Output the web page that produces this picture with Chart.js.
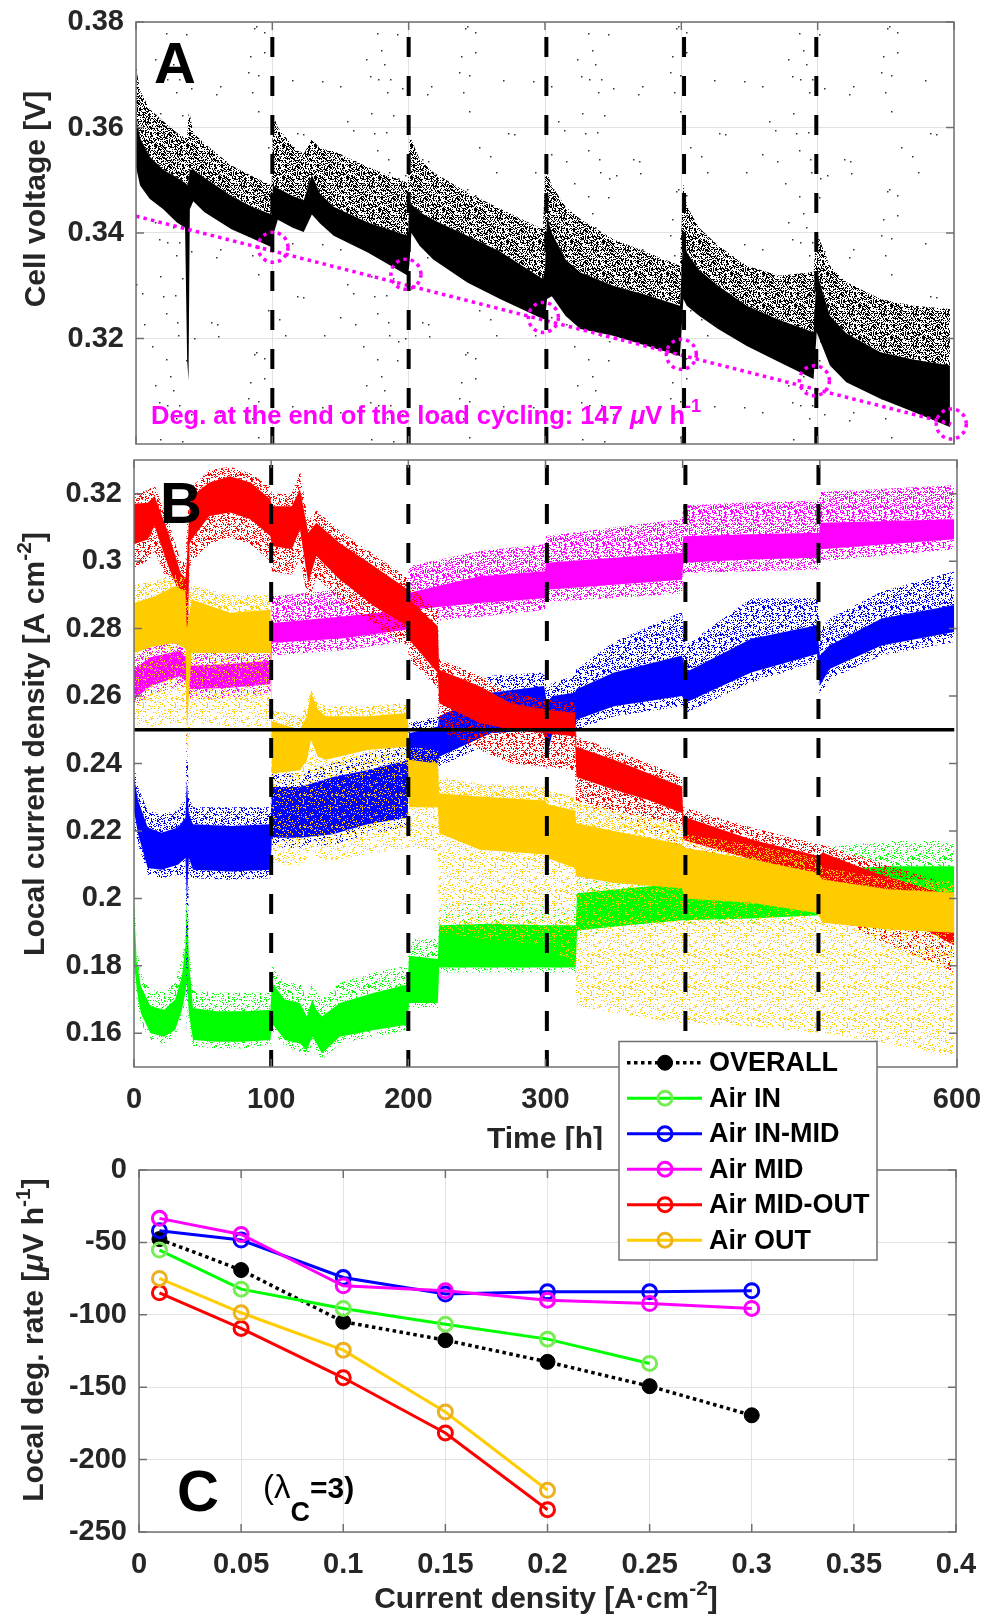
<!DOCTYPE html>
<html>
<head>
<meta charset="utf-8">
<title>Load cycling – local degradation</title>
<script src="https://cdn.jsdelivr.net/npm/chart.js@4.4.1/dist/chart.umd.min.js"></script>
<style>
  html, body { margin: 0; padding: 0; background: #fff; }
  #fig { position: relative; width: 986px; height: 1618px; overflow: hidden; background: #fff; }
  #fig canvas { position: absolute; left: 0; }
</style>
</head>
<body>
<div id="fig">
  <canvas id="panelA" width="986" height="450" style="top:0;width:986px;height:450px"></canvas>
  <canvas id="panelB" width="986" height="720" style="top:430px;width:986px;height:720px"></canvas>
  <canvas id="panelC" width="986" height="588" style="top:1030px;width:986px;height:588px"></canvas>
</div>
<script>
// ------------------------------------------------------------
// DATA
// ------------------------------------------------------------

// A – cell voltage envelope: [time h, lower edge, top of dense band, top of scatter]
const cellVoltage = [
  [0, 0.3525, 0.362, 0.3715], [3, 0.349, 0.358, 0.367], [10, 0.3465, 0.3545, 0.3635],
  [20, 0.3445, 0.352, 0.3612], [30, 0.342, 0.3505, 0.359], [36, 0.341, 0.3495, 0.358],
  [37.5, 0.316, 0.349, 0.3585], [38.5, 0.312, 0.35, 0.3625], [39.5, 0.3445, 0.352, 0.3625],
  [42, 0.346, 0.352, 0.359], [50, 0.344, 0.3505, 0.357], [70, 0.3407, 0.347, 0.3528],
  [85, 0.339, 0.345, 0.3508], [99.5, 0.3373, 0.3435, 0.349],
  [100.5, 0.3395, 0.349, 0.3625], [104, 0.3425, 0.3485, 0.36], [115, 0.341, 0.347, 0.3565],
  [123, 0.3402, 0.3462, 0.355], [129, 0.3435, 0.351, 0.3578], [135, 0.3418, 0.3475, 0.356],
  [145, 0.3395, 0.345, 0.3555], [170, 0.3363, 0.342, 0.3525], [199.5, 0.3319, 0.3395, 0.3495],
  [200.5, 0.334, 0.345, 0.3577], [202, 0.34, 0.3455, 0.3577], [208, 0.3376, 0.344, 0.354],
  [218, 0.335, 0.3425, 0.3515], [243, 0.3306, 0.3395, 0.3477], [267, 0.3275, 0.3365, 0.3446],
  [298.5, 0.3237, 0.3313, 0.3407], [300, 0.3237, 0.333, 0.3514],
  [301.5, 0.3275, 0.3432, 0.3514], [305, 0.328, 0.34, 0.349], [315, 0.3243, 0.335, 0.345],
  [326, 0.3218, 0.3325, 0.3426], [350, 0.3205, 0.33, 0.3388], [375, 0.3186, 0.3282, 0.3363],
  [399, 0.3167, 0.3262, 0.3338],
  [401.5, 0.3275, 0.3401, 0.3496], [404, 0.3262, 0.3363, 0.3451], [413, 0.3243, 0.333, 0.341],
  [427, 0.3218, 0.33, 0.3376], [448, 0.3186, 0.3262, 0.3338], [472, 0.3155, 0.3235, 0.3319],
  [497, 0.3123, 0.3212, 0.3326],
  [499.3, 0.3212, 0.3325, 0.3401], [509, 0.3149, 0.3243, 0.3338], [521, 0.3117, 0.321, 0.3307],
  [546, 0.3086, 0.3174, 0.3275], [570, 0.3061, 0.316, 0.3262], [597, 0.3032, 0.3149, 0.3256]
];
const degradationLine = [[0, 0.3432], [598, 0.3038]];
const cycleEnds = [[100.5, 0.3373], [198, 0.3322], [298.8, 0.324], [400, 0.317], [497.6, 0.312], [598, 0.3038]];
const loadCycles = [100, 200, 301, 402, 499];

// B – local current density: [time h, scatter low, band low, band high, scatter high]
const airIn = [
  [0, 0.178, 0.181, 0.199, 0.205], [2, 0.17, 0.173, 0.181, 0.186], [5, 0.163, 0.166, 0.174, 0.178],
  [12, 0.158, 0.16, 0.168, 0.173], [22, 0.157, 0.159, 0.167, 0.172], [30, 0.159, 0.161, 0.17, 0.175],
  [35, 0.165, 0.167, 0.177, 0.182], [37.5, 0.17, 0.172, 0.186, 0.19], [38.5, 0.168, 0.175, 0.2, 0.222],
  [40, 0.163, 0.166, 0.182, 0.186], [43, 0.156, 0.158, 0.1675, 0.173], [60, 0.1555, 0.1575, 0.1665, 0.172],
  [80, 0.1555, 0.1575, 0.1665, 0.172], [99.5, 0.1565, 0.158, 0.167, 0.172],
  [100.5, 0.161, 0.163, 0.175, 0.18], [110, 0.156, 0.158, 0.17, 0.175], [121, 0.1545, 0.157, 0.169, 0.175],
  [126, 0.153, 0.155, 0.165, 0.17], [130, 0.157, 0.159, 0.17, 0.175], [133, 0.155, 0.157, 0.167, 0.172],
  [137, 0.152, 0.154, 0.165, 0.17], [150, 0.157, 0.159, 0.169, 0.175], [175, 0.159, 0.161, 0.172, 0.178],
  [199.5, 0.161, 0.1625, 0.1745, 0.18],
  [200.5, 0.1675, 0.169, 0.183, 0.188], [221.5, 0.1675, 0.169, 0.182, 0.188],
  [222.5, 0.178, 0.1795, 0.192, 0.198], [260, 0.178, 0.1795, 0.1925, 0.199], [300, 0.178, 0.1795, 0.192, 0.198],
  [322, 0.178, 0.1795, 0.192, 0.198],
  [323, 0.189, 0.1905, 0.2015, 0.207], [360, 0.1905, 0.192, 0.203, 0.208], [400, 0.192, 0.1935, 0.2045, 0.21],
  [450, 0.1925, 0.194, 0.204, 0.211], [499, 0.1935, 0.195, 0.205, 0.213],
  [500, 0.1945, 0.196, 0.2085, 0.215], [550, 0.1955, 0.197, 0.2095, 0.217], [598, 0.1955, 0.197, 0.2095, 0.217]
];
const airInMid = [
  [0, 0.222, 0.226, 0.236, 0.24], [3, 0.216, 0.219, 0.229, 0.233], [10, 0.207, 0.209, 0.221, 0.226],
  [20, 0.206, 0.2085, 0.2195, 0.225], [32, 0.207, 0.21, 0.221, 0.226], [37.5, 0.206, 0.212, 0.224, 0.23],
  [38.5, 0.16, 0.2, 0.235, 0.25], [40, 0.207, 0.212, 0.225, 0.23], [43, 0.206, 0.2085, 0.222, 0.227],
  [70, 0.2055, 0.208, 0.2215, 0.227], [99.5, 0.206, 0.2085, 0.222, 0.227],
  [100.5, 0.215, 0.218, 0.233, 0.237], [121, 0.215, 0.218, 0.233, 0.237], [145, 0.216, 0.219, 0.236, 0.24],
  [170, 0.219, 0.222, 0.238, 0.243], [199.5, 0.221, 0.224, 0.241, 0.246],
  [200.5, 0.235, 0.238, 0.249, 0.252], [221.5, 0.237, 0.24, 0.251, 0.254],
  [222.5, 0.239, 0.242, 0.254, 0.258], [260, 0.246, 0.249, 0.261, 0.266], [299, 0.247, 0.25, 0.263, 0.267],
  [301, 0.238, 0.242, 0.258, 0.262], [305, 0.246, 0.249, 0.26, 0.264], [321.5, 0.247, 0.25, 0.261, 0.266],
  [322.5, 0.25, 0.253, 0.262, 0.268], [350, 0.254, 0.257, 0.267, 0.276], [399.5, 0.257, 0.26, 0.272, 0.285],
  [402, 0.255, 0.258, 0.267, 0.275], [450, 0.264, 0.267, 0.277, 0.289], [498, 0.27, 0.2725, 0.281, 0.289],
  [500, 0.26, 0.263, 0.272, 0.28], [507, 0.265, 0.268, 0.275, 0.283], [545, 0.272, 0.275, 0.283, 0.291],
  [598, 0.276, 0.279, 0.287, 0.297]
];
const airMid = [
  [0, 0.2565, 0.259, 0.268, 0.2715], [12, 0.2605, 0.263, 0.2715, 0.275], [34, 0.263, 0.266, 0.2735, 0.278],
  [42, 0.259, 0.262, 0.269, 0.273], [70, 0.2595, 0.2625, 0.2695, 0.273], [99.5, 0.2605, 0.2635, 0.2705, 0.2745],
  [100.5, 0.272, 0.2758, 0.2817, 0.2896], [150, 0.2735, 0.277, 0.2835, 0.2915], [199.5, 0.276, 0.2797, 0.2856, 0.2936],
  [200.5, 0.2815, 0.2856, 0.2906, 0.2985], [252, 0.2835, 0.2876, 0.2955, 0.303], [299.5, 0.2855, 0.289, 0.297, 0.305],
  [300.5, 0.288, 0.2915, 0.2995, 0.3075], [350, 0.289, 0.293, 0.301, 0.31], [399.5, 0.2905, 0.2945, 0.3025, 0.3125],
  [400.5, 0.2965, 0.2995, 0.3074, 0.3165], [450, 0.297, 0.3005, 0.308, 0.3175], [499.5, 0.2975, 0.301, 0.3084, 0.318],
  [500.5, 0.3, 0.3035, 0.3114, 0.3205], [598, 0.3035, 0.3065, 0.3124, 0.3225]
];
const airMidOut = [
  [0, 0.298, 0.305, 0.317, 0.32], [10, 0.3, 0.3064, 0.3173, 0.321], [15, 0.303, 0.3104, 0.3193, 0.3225],
  [25, 0.293, 0.2985, 0.3084, 0.312], [34, 0.285, 0.2896, 0.2965, 0.3], [37.5, 0.28, 0.287, 0.295, 0.3],
  [38.5, 0.24, 0.26, 0.3, 0.31], [40.5, 0.298, 0.305, 0.316, 0.32], [42, 0.3, 0.3064, 0.3193, 0.322],
  [55, 0.305, 0.3134, 0.3233, 0.327], [70, 0.307, 0.3144, 0.3252, 0.328], [85, 0.305, 0.3124, 0.3233, 0.326],
  [99.5, 0.3, 0.3074, 0.3183, 0.322],
  [100.5, 0.297, 0.3045, 0.3163, 0.32], [115, 0.296, 0.3035, 0.3163, 0.32], [121, 0.301, 0.3094, 0.3213, 0.327],
  [127, 0.288, 0.2936, 0.3084, 0.312], [133, 0.295, 0.3015, 0.3114, 0.315], [150, 0.289, 0.2946, 0.3054, 0.309],
  [175, 0.281, 0.2866, 0.2985, 0.302], [199.5, 0.275, 0.2807, 0.2916, 0.295],
  [200.5, 0.271, 0.2767, 0.2886, 0.293], [221.5, 0.262, 0.2668, 0.2807, 0.285],
  [222.5, 0.25, 0.2579, 0.2678, 0.271], [252, 0.244, 0.252, 0.2629, 0.266], [275, 0.24, 0.25, 0.2579, 0.261],
  [300, 0.239, 0.249, 0.256, 0.259], [321.5, 0.238, 0.248, 0.255, 0.258],
  [322.5, 0.227, 0.236, 0.245, 0.248], [350, 0.224, 0.2322, 0.2411, 0.244], [375, 0.22, 0.2292, 0.2371, 0.24],
  [399.5, 0.214, 0.2253, 0.2332, 0.236],
  [400.5, 0.21, 0.2173, 0.2243, 0.227], [450, 0.204, 0.2116, 0.2175, 0.221], [499, 0.198, 0.2066, 0.2126, 0.216],
  [502, 0.196, 0.2046, 0.2136, 0.216], [540, 0.188, 0.199, 0.2076, 0.211], [598, 0.178, 0.186, 0.2005, 0.204]
];
const airOut = [
  [0, 0.251, 0.2728, 0.2876, 0.293], [15, 0.251, 0.2748, 0.2896, 0.294], [30, 0.252, 0.2757, 0.2926, 0.296],
  [37.5, 0.252, 0.274, 0.291, 0.295], [38.5, 0.24, 0.25, 0.28, 0.29], [42, 0.252, 0.2728, 0.2886, 0.293],
  [70, 0.251, 0.2728, 0.2847, 0.29], [99.5, 0.251, 0.2728, 0.2856, 0.29],
  [100.5, 0.21, 0.237, 0.2525, 0.256], [121, 0.21, 0.238, 0.25, 0.254], [126, 0.212, 0.241, 0.254, 0.258],
  [129, 0.214, 0.247, 0.261, 0.262], [134, 0.212, 0.242, 0.256, 0.258], [140, 0.211, 0.2411, 0.254, 0.257],
  [170, 0.213, 0.244, 0.254, 0.257], [199.5, 0.215, 0.245, 0.255, 0.258],
  [200.5, 0.215, 0.227, 0.2411, 0.245], [221.5, 0.214, 0.227, 0.24, 0.244],
  [222.5, 0.19, 0.2193, 0.2311, 0.236], [252, 0.188, 0.2144, 0.2302, 0.234], [300, 0.186, 0.213, 0.229, 0.233],
  [301, 0.186, 0.212, 0.228, 0.232], [321.5, 0.18, 0.209, 0.226, 0.23],
  [322.5, 0.168, 0.2066, 0.2223, 0.229], [350, 0.166, 0.2046, 0.22, 0.226], [399.5, 0.163, 0.203, 0.216, 0.222],
  [401, 0.163, 0.2, 0.215, 0.219], [450, 0.162, 0.1987, 0.2116, 0.216], [498, 0.16, 0.1957, 0.2076, 0.212],
  [502, 0.16, 0.1928, 0.2056, 0.209], [550, 0.157, 0.1908, 0.2027, 0.206], [598, 0.153, 0.1898, 0.2017, 0.205]
];
const overallDensity = [[0, 0.25], [598, 0.25]];

// C – local degradation rate (µV/h) vs current density (A/cm2)
const currentDensity = [0.01, 0.05, 0.1, 0.15, 0.2, 0.25, 0.3];
const rateOverall   = [-47.7, -69.1, -104.8, -117.5, -132.5, -149.3, -169.4];
const rateAirIn     = [-55.3, -82.3, -95.6, -106.5, -116.8, -133.6];
const rateAirInMid  = [-41.9, -48.4, -74.2, -85.7, -84.1, -84.1, -83.4];
const rateAirMid    = [-33.4, -44.5, -80.0, -83.4, -89.9, -92.2, -95.6];
const rateAirMidOut = [-84.8, -109.4, -143.5, -181.6, -234.6];
const rateAirOut    = [-74.9, -98.6, -124.4, -167.1, -221.2];

// axis ticks
const voltTicks = [0.32, 0.34, 0.36, 0.38];
const timeTicks = [0, 100, 200, 300, 400, 500, 600];
const densityTicks = [0.16, 0.18, 0.2, 0.22, 0.24, 0.26, 0.28, 0.3, 0.32];
const rateTicks = [-250, -200, -150, -100, -50, 0];
const jTicks = [0, 0.05, 0.1, 0.15, 0.2, 0.25, 0.3, 0.35, 0.4];

// ------------------------------------------------------------
// STYLE HELPERS
// ------------------------------------------------------------
const FONT = '"Liberation Sans", Arial, Helvetica, sans-serif';
const INK = '#262626';
const FRAME = '#707070';
const GRID = '#e2e2e2';
const TICK = 8;
const GREEN = '#00ff00', BLUE = '#0000ff', MAGENTA = '#ff00ff', RED = '#ff0000', GOLD = '#ffcc00';

const bold = s => `bold ${s}px ${FONT}`;
const plain = s => `${s}px ${FONT}`;
const ital = s => `italic bold ${s}px ${FONT}`;

// integer hash of a tile cell, used as a fixed dither threshold
function cellHash(x, y, salt) {
  let h = Math.imul(x + 1, 374761393) ^ Math.imul(y + 1, 668265263) ^ Math.imul(salt + 7, 2246822519);
  h = Math.imul(h ^ (h >>> 13), 1274126177);
  h ^= h >>> 16;
  return (h >>> 0) / 4294967296;
}

// repeating dot tile for the sparse scatter part of a band
function speckle(color, density, w = 32, h = 32, size = 1) {
  const tile = document.createElement('canvas');
  tile.width = w;
  tile.height = h;
  const g = tile.getContext('2d');
  g.fillStyle = color;
  for (let y = 0; y < h; y++) {
    for (let x = 0; x < w; x++) {
      if (cellHash(x, y, w + h) < density) g.fillRect(x, y, size, size);
    }
  }
  return g.createPattern(tile, 'repeat');
}

// text made of runs (normal / superscript / subscript), optionally rotated
function rich(ctx, parts, x, y, opts = {}) {
  ctx.save();
  ctx.translate(x, y);
  if (opts.angle) ctx.rotate(opts.angle);
  let w = 0;
  parts.forEach(p => { ctx.font = p.font; w += ctx.measureText(p.text).width; });
  let cx = opts.align === 'center' ? -w / 2 : 0;
  ctx.fillStyle = opts.color || INK;
  ctx.textBaseline = 'alphabetic';
  ctx.textAlign = 'left';
  parts.forEach(p => {
    ctx.font = p.font;
    ctx.fillText(p.text, cx, p.dy || 0);
    cx += ctx.measureText(p.text).width;
  });
  ctx.restore();
}

function drawFrame(ctx, a, xs, ys) {
  ctx.save();
  ctx.strokeStyle = FRAME;
  ctx.lineWidth = 1.5;
  ctx.setLineDash([]);
  ctx.beginPath();
  xs.ticks.forEach(t => {
    const px = xs.getPixelForValue(t.value);
    ctx.moveTo(px, a.bottom); ctx.lineTo(px, a.bottom - TICK);
    ctx.moveTo(px, a.top); ctx.lineTo(px, a.top + TICK);
  });
  ys.ticks.forEach(t => {
    const py = ys.getPixelForValue(t.value);
    ctx.moveTo(a.left, py); ctx.lineTo(a.left + TICK, py);
    ctx.moveTo(a.right, py); ctx.lineTo(a.right - TICK, py);
  });
  ctx.stroke();
  ctx.strokeRect(a.left, a.top, a.right - a.left, a.bottom - a.top);
  ctx.restore();
}

function drawCycleLines(ctx, a, xs, offset) {
  ctx.save();
  ctx.strokeStyle = '#000';
  ctx.lineWidth = 4;
  ctx.setLineDash([20, 19]);
  ctx.lineDashOffset = offset;
  loadCycles.forEach(t => {
    const px = xs.getPixelForValue(t);
    ctx.beginPath(); ctx.moveTo(px, a.top); ctx.lineTo(px, a.bottom); ctx.stroke();
  });
  ctx.restore();
}

function xAxis(min, max, ticks, height, opts = {}) {
  return {
    type: 'linear', min, max, offset: false,
    afterBuildTicks: s => { s.ticks = ticks.map(v => ({ value: v })); },
    afterFit: s => { s.height = height; s.paddingLeft = 0; s.paddingRight = 0; },
    grid: { display: !!opts.grid, color: GRID, lineWidth: 1, drawTicks: false },
    border: { display: false },
    ticks: {
      display: opts.labels !== false, padding: 16, color: INK, maxRotation: 0,
      font: { family: FONT, size: 29, weight: 'bold' }, callback: v => String(v)
    }
  };
}

function yAxis(min, max, ticks, width, opts = {}) {
  return {
    type: 'linear', min, max,
    afterBuildTicks: s => { s.ticks = ticks.map(v => ({ value: v })); },
    afterFit: s => { s.width = width; s.paddingTop = 0; s.paddingBottom = 0; },
    grid: { display: !!opts.grid, color: GRID, lineWidth: 1, drawTicks: false },
    border: { display: false },
    ticks: {
      padding: 12, color: INK,
      font: { family: FONT, size: 29, weight: 'bold' }, callback: v => String(v)
    }
  };
}

const baseOptions = (padding) => ({
  responsive: false, animation: false, events: [],
  layout: { padding },
  plugins: { legend: { display: false }, tooltip: { enabled: false } },
  elements: { line: { tension: 0 }, point: { radius: 0, hoverRadius: 0 } }
});

const edge = { borderWidth: 0, borderColor: 'rgba(0,0,0,0)', pointRadius: 0 };
const pts = (rows, k) => rows.map(r => ({ x: r[0], y: r[k] }));

// ------------------------------------------------------------
// PANEL A – cell voltage
// ------------------------------------------------------------
const strayPoints = speckle('#333', 0.0012, 211, 163, 1.5);

const panelAExtras = {
  id: 'panelAExtras',
  beforeDatasetsDraw(chart) {
    // isolated outlier samples scattered over the whole record
    const { ctx, chartArea: a } = chart;
    ctx.save();
    ctx.fillStyle = strayPoints;
    ctx.fillRect(a.left, a.top, a.right - a.left, a.bottom - a.top);
    ctx.restore();
  },
  afterDatasetsDraw(chart) {
    const { ctx, chartArea: a, scales: { x, y } } = chart;
    drawCycleLines(ctx, a, x, 24);

    // dotted rings at the end of each load cycle
    ctx.save();
    ctx.strokeStyle = MAGENTA;
    ctx.lineWidth = 3.5;
    ctx.setLineDash([3.5, 4]);
    cycleEnds.forEach(([t, v]) => {
      ctx.beginPath();
      ctx.arc(x.getPixelForValue(t), y.getPixelForValue(v), 15, 0, Math.PI * 2);
      ctx.stroke();
    });
    ctx.restore();

    drawFrame(ctx, a, x, y);

    rich(ctx, [{ text: 'A', font: bold(58) }], 154, 83, { color: '#000' });
    rich(ctx, [{ text: 'Cell voltage [V]', font: bold(30) }], 45, 199, { angle: -Math.PI / 2, align: 'center' });
    rich(ctx, [
      { text: 'Deg. at the end of the load cycling: 147 ', font: bold(25.5) },
      { text: 'μ', font: ital(25.5) },
      { text: 'V h', font: bold(25.5) },
      { text: '-1', font: bold(18), dy: -12 }
    ], 151, 424, { color: MAGENTA });
  }
};

new Chart(document.getElementById('panelA'), {
  type: 'line',
  data: {
    datasets: [
      { ...edge, data: pts(cellVoltage, 1), fill: false, order: 5 },
      { ...edge, data: pts(cellVoltage, 2), fill: '-1', backgroundColor: '#000', order: 5 },
      { ...edge, data: pts(cellVoltage, 3), fill: '-1', backgroundColor: speckle('#000', 0.45), order: 5 },
      {
        data: degradationLine.map(([x, y]) => ({ x, y })), fill: false, order: 1,
        borderColor: MAGENTA, borderWidth: 3.5, borderDash: [3.5, 4.2], pointRadius: 0
      }
    ]
  },
  options: {
    ...baseOptions({ top: 22, right: 32, left: 0, bottom: 0 }),
    scales: {
      x: xAxis(0, 600, timeTicks, 6, { grid: true, labels: false }),
      y: yAxis(0.30, 0.38, voltTicks, 136, { grid: true })
    }
  },
  plugins: [panelAExtras]
});

// ------------------------------------------------------------
// PANEL B – local current density
// ------------------------------------------------------------
function bandSets(rows, color, order, loDensity, hiDensity) {
  return [
    { ...edge, data: pts(rows, 1), fill: false, order },
    { ...edge, data: pts(rows, 2), fill: '-1', backgroundColor: speckle(color, loDensity), order },
    { ...edge, data: pts(rows, 3), fill: '-1', backgroundColor: color, order },
    { ...edge, data: pts(rows, 4), fill: '-1', backgroundColor: speckle(color, hiDensity), order }
  ];
}

const panelBExtras = {
  id: 'panelBExtras',
  afterDatasetsDraw(chart) {
    const { ctx, chartArea: a, scales: { x, y } } = chart;
    drawCycleLines(ctx, a, x, 34);
    drawFrame(ctx, a, x, y);
    rich(ctx, [{ text: 'B', font: bold(58) }], 160, 93, { color: '#000' });
    rich(ctx, [
      { text: 'Local current density [A cm', font: bold(30) },
      { text: '-2', font: bold(21), dy: -13 },
      { text: ']', font: bold(30) }
    ], 44, 314, { angle: -Math.PI / 2, align: 'center' });
    rich(ctx, [{ text: 'Time [h]', font: bold(30) }], 545, 718, { align: 'center' });
  }
};

new Chart(document.getElementById('panelB'), {
  type: 'line',
  data: {
    datasets: [
      ...bandSets(airIn, GREEN, 50, 0.15, 0.18),
      ...bandSets(airInMid, BLUE, 40, 0.25, 0.3),
      ...bandSets(airMid, MAGENTA, 30, 0.3, 0.36),
      ...bandSets(airMidOut, RED, 20, 0.3, 0.3),
      ...bandSets(airOut, GOLD, 10, 0.14, 0.26),
      {
        data: overallDensity.map(([x, y]) => ({ x, y })), fill: false, order: 0,
        borderColor: '#000', borderWidth: 3.5, pointRadius: 0
      }
    ]
  },
  options: {
    ...baseOptions({ top: 30, right: 29, left: 0, bottom: 0 }),
    scales: {
      x: xAxis(0, 600, timeTicks, 83),
      y: yAxis(0.15, 0.33, densityTicks, 134)
    }
  },
  plugins: [panelBExtras]
});

// ------------------------------------------------------------
// PANEL C – local degradation rate
// ------------------------------------------------------------
const series = (label, values, line, marker, extra = {}) => ({
  label,
  data: values.map((v, i) => ({ x: currentDensity[i], y: v })),
  borderColor: line, borderWidth: 3, fill: false,
  pointRadius: 7, pointBorderWidth: 3, pointBorderColor: marker, pointBackgroundColor: 'rgba(0,0,0,0)',
  ...extra
});

const degSeries = [
  series('OVERALL', rateOverall, '#000', '#000', {
    borderDash: [3.5, 3.5], borderWidth: 3.5, pointRadius: 7.5, pointBorderWidth: 1,
    pointBackgroundColor: '#000', order: 6
  }),
  series('Air IN', rateAirIn, GREEN, '#77ec55', { order: 5 }),
  series('Air IN-MID', rateAirInMid, BLUE, BLUE, { order: 4 }),
  series('Air MID', rateAirMid, MAGENTA, MAGENTA, { order: 3 }),
  series('Air MID-OUT', rateAirMidOut, RED, RED, { order: 2 }),
  series('Air OUT', rateAirOut, GOLD, '#edb120', { order: 1 })
];

const panelCExtras = {
  id: 'panelCExtras',
  afterDatasetsDraw(chart) {
    const { ctx, chartArea: a, scales: { x, y } } = chart;
    drawFrame(ctx, a, x, y);

    rich(ctx, [{ text: 'C', font: bold(58) }], 177, 481, { color: '#000' });
    rich(ctx, [
      { text: '(λ', font: plain(33) },
      { text: 'C', font: bold(27), dy: 23 },
      { text: '=3)', font: bold(30) }
    ], 263, 468, { color: '#000' });
    rich(ctx, [
      { text: 'Local deg. rate [', font: bold(30) },
      { text: 'μ', font: ital(30) },
      { text: 'V h', font: bold(30) },
      { text: '-1', font: bold(21), dy: -13 },
      { text: ']', font: bold(30) }
    ], 43, 310, { angle: -Math.PI / 2, align: 'center' });
    rich(ctx, [
      { text: 'Current density [A·cm', font: bold(30) },
      { text: '-2', font: bold(21), dy: -13 },
      { text: ']', font: bold(30) }
    ], 546, 578, { align: 'center' });

    // legend box shared by B and C
    const box = { l: 619, t: 11.5, r: 877, b: 230 };
    ctx.save();
    ctx.fillStyle = '#fff';
    ctx.fillRect(box.l, box.t, box.r - box.l, box.b - box.t);
    ctx.strokeStyle = FRAME;
    ctx.lineWidth = 1.5;
    ctx.strokeRect(box.l, box.t, box.r - box.l, box.b - box.t);
    chart.data.datasets.forEach((ds, i) => {
      const ry = 32.7 + i * 35.5;
      ctx.strokeStyle = ds.borderColor;
      ctx.lineWidth = ds.borderWidth;
      ctx.setLineDash(ds.borderDash || []);
      ctx.beginPath(); ctx.moveTo(627, ry); ctx.lineTo(702, ry); ctx.stroke();
      ctx.setLineDash([]);
      ctx.beginPath(); ctx.arc(665, ry, ds.pointRadius, 0, Math.PI * 2);
      ctx.fillStyle = ds.pointBackgroundColor; ctx.fill();
      ctx.lineWidth = ds.pointBorderWidth; ctx.strokeStyle = ds.pointBorderColor; ctx.stroke();
      ctx.fillStyle = '#000';
      ctx.font = bold(27);
      ctx.textBaseline = 'middle';
      ctx.fillText(ds.label, 709, ry + 1);
    });
    ctx.restore();
  }
};

new Chart(document.getElementById('panelC'), {
  type: 'line',
  data: { datasets: degSeries },
  options: {
    ...baseOptions({ top: 140, right: 30, left: 0, bottom: 0 }),
    scales: {
      x: xAxis(0, 0.4, jTicks, 86, { grid: true }),
      y: yAxis(-250, 0, rateTicks, 139, { grid: true })
    }
  },
  plugins: [panelCExtras]
});
</script>
</body>
</html>
